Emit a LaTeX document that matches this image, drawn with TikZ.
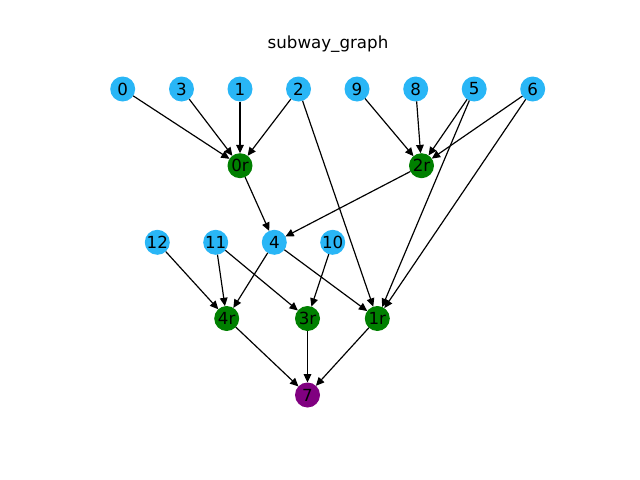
\documentclass[tikz,border=0pt]{standalone}
\usepackage{fontspec}
\setmainfont{DejaVu Sans}
\usetikzlibrary{arrows.meta}
\definecolor{lblue}{HTML}{29B6F6}
\definecolor{dgreen}{HTML}{008000}
\definecolor{dpurple}{HTML}{800080}
\tikzset{
  vert/.style={circle, minimum size=18pt, inner sep=0pt, outer sep=0pt, font=\fontsize{12}{14}\selectfont, text=black},
  bnode/.style={vert, fill=lblue},
  gnode/.style={vert, fill=dgreen},
  pnode/.style={vert, fill=dpurple},
  edge/.style={line width=0.85pt, -{Triangle[length=6pt,width=5.5pt]}}
}
\begin{document}
\begin{tikzpicture}[x=0.72pt, y=-0.72pt]
\useasboundingbox (0,0) rectangle (640,480);
\node[font=\fontsize{12}{14}\selectfont] (title) at (328,44) {subway\_graph};
% row 1
\node[bnode] (n0) at (122.7,89) {0};
\node[bnode] (n3) at (181.5,89) {3};
\node[bnode] (n1) at (240,89) {1};
\node[bnode] (n2) at (298.5,89) {2};
\node[bnode] (n9) at (357,89) {9};
\node[bnode] (n8) at (415.7,89) {8};
\node[bnode] (n5) at (474.2,89) {5};
\node[bnode] (n6) at (532.7,89) {6};
% row 2
\node[gnode] (n0r) at (240,165.7) {0r};
\node[gnode] (n2r) at (421.5,165.7) {2r};
% row 3
\node[bnode] (n12) at (157.3,242.3) {12};
\node[bnode] (n11) at (215.7,242.3) {11};
\node[bnode] (n4) at (274.3,242.3) {4};
\node[bnode] (n10) at (332.7,242.3) {10};
% row 4
\node[gnode] (n4r) at (226.7,318.5) {4r};
\node[gnode] (n3r) at (307.5,318.5) {3r};
\node[gnode] (n1r) at (377.3,318.5) {1r};
% row 5
\node[pnode] (n7) at (307.5,395) {7};
% edges
\draw[edge] (n0) -- (n0r);
\draw[edge] (n3) -- (n0r);
\draw[edge] (n1) -- (n0r);
\draw[edge] (n2) -- (n0r);
\draw[edge] (n2) -- (n1r);
\draw[edge] (n9) -- (n2r);
\draw[edge] (n8) -- (n2r);
\draw[edge] (n5) -- (n2r);
\draw[edge] (n5) -- (n1r);
\draw[edge] (n6) -- (n2r);
\draw[edge] (n6) -- (n1r);
\draw[edge] (n0r) -- (n4);
\draw[edge] (n2r) -- (n4);
\draw[edge] (n12) -- (n4r);
\draw[edge] (n11) -- (n4r);
\draw[edge] (n11) -- (n3r);
\draw[edge] (n4) -- (n4r);
\draw[edge] (n4) -- (n1r);
\draw[edge] (n10) -- (n3r);
\draw[edge] (n4r) -- (n7);
\draw[edge] (n3r) -- (n7);
\draw[edge] (n1r) -- (n7);
\end{tikzpicture}
\end{document}
